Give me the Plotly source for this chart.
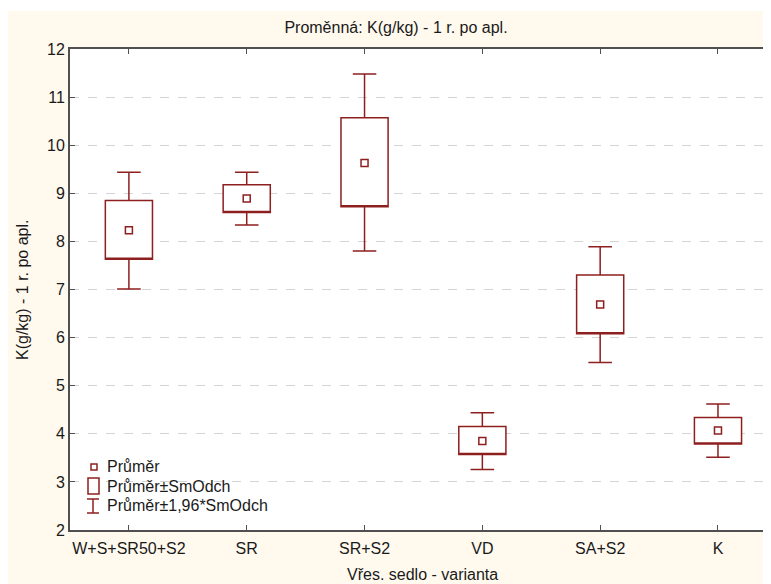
import plotly.graph_objects as go

# ---- data ----
categories = ["W+S+SR50+S2", "SR", "SR+S2", "VD", "SA+S2", "K"]
mean_vals = [8.23, 8.89, 9.63, 3.85, 6.69, 4.07]
sd_low = [7.63, 8.60, 8.72, 3.57, 6.08, 3.79]
sd_high = [8.85, 9.18, 10.57, 4.15, 7.30, 4.34]
ci_low = [7.01, 8.34, 7.80, 3.26, 5.48, 3.51]
ci_high = [9.44, 9.44, 11.48, 4.44, 7.89, 4.62]
y_ticks = list(range(2, 13))

title_text = "Proměnná: K(g/kg) - 1 r. po apl."
y_title = "K(g/kg) - 1 r. po apl."
x_title = "Vřes. sedlo - varianta"
legend_labels = ["Průměr", "Průměr±SmOdch", "Průměr±1,96*SmOdch"]

# ---- style ----
OX, OY = 8, 8            # page offset of the figure (body margin)
W, H = 763, 576          # figure size (fills the 771x584 window after offset)
ML, MR, MT, MB = 62, 0, 41, 54
PW, PH = W - ML - MR, H - MT - MB
RED = "#8E1F1F"
AX = "#505050"
TXT = "#1a1a1a"
FONT = "Liberation Sans, Arial, sans-serif"
CREAM = "#FFF9EE"


def px(xp):
    """page x pixel -> paper x"""
    return (xp - OX - ML) / PW


def py(yp):
    """page y pixel -> paper y"""
    return (OY + H - MB - yp) / PH


fig = go.Figure()

fig.add_trace(go.Box(
    x=categories,
    q1=sd_low, q3=sd_high, median=sd_low,
    lowerfence=ci_low, upperfence=ci_high,
    width=0.4, whiskerwidth=0.5,
    fillcolor="white",
    line=dict(color=RED, width=1.5),
    boxpoints=False,
    showlegend=False,
    hoverinfo="skip",
))

fig.add_trace(go.Scatter(
    x=categories, y=mean_vals, mode="markers",
    marker=dict(symbol="square", size=7, color="white",
                line=dict(color=RED, width=1.5)),
    showlegend=False,
))

shapes = [
    # thin white strip at the top of the page (reference border)
    dict(type="rect", xref="paper", yref="paper", x0=px(0), x1=px(780),
         y0=py(11), y1=py(0), fillcolor="white", line=dict(width=0), layer="above"),
    # legend glyphs
    dict(type="rect", xref="paper", yref="paper", x0=px(91), x1=px(97),
         y0=py(470), y1=py(464), fillcolor="white", line=dict(color=RED, width=1.5)),
    dict(type="rect", xref="paper", yref="paper", x0=px(88), x1=px(99),
         y0=py(494), y1=py(478), fillcolor="white", line=dict(color=RED, width=1.5)),
    dict(type="line", xref="paper", yref="paper", x0=px(93), x1=px(93),
         y0=py(513), y1=py(499), line=dict(color=RED, width=1.5)),
    dict(type="line", xref="paper", yref="paper", x0=px(87), x1=px(99),
         y0=py(499), y1=py(499), line=dict(color=RED, width=1.5)),
    dict(type="line", xref="paper", yref="paper", x0=px(87), x1=px(99),
         y0=py(513), y1=py(513), line=dict(color=RED, width=1.5)),
]

annotations = [
    dict(text=y_title, xref="paper", yref="paper", x=px(22), y=py(290),
         textangle=-90, showarrow=False, font=dict(size=16, color=TXT, family=FONT),
         xanchor="center", yanchor="middle"),
    dict(text=x_title, xref="paper", yref="paper", x=px(422), y=py(574),
         showarrow=False, font=dict(size=16, color=TXT, family=FONT),
         xanchor="center", yanchor="middle"),
]
for lbl, yp in zip(legend_labels, [466, 486, 505]):
    annotations.append(dict(text=lbl, xref="paper", yref="paper", x=px(105), y=py(yp),
                            showarrow=False, xanchor="left", yanchor="middle",
                            font=dict(size=16, color=TXT, family=FONT)))

fig.update_layout(
    width=W, height=H,
    margin=dict(l=ML, r=MR, t=MT, b=MB),
    paper_bgcolor=CREAM, plot_bgcolor="white",
    font=dict(family=FONT, size=16, color=TXT),
    title=dict(text=title_text, x=(396 - OX) / W, xanchor="center",
               y=1 - (27 - OY) / H, yanchor="middle",
               font=dict(size=16, color=TXT, family=FONT)),
    shapes=shapes,
    annotations=annotations,
    showlegend=False,
)

fig.update_xaxes(
    type="category", range=[-0.5, 5.45],
    showline=True, linecolor=AX, linewidth=1.5, mirror="ticks",
    ticks="inside", ticklen=5, tickcolor=AX, tickwidth=1.2,
    ticklabelstandoff=3,
    showgrid=False, zeroline=False,
    tickfont=dict(size=16, color=TXT, family=FONT),
)
fig.update_yaxes(
    range=[2, 12], tickvals=y_ticks,
    showline=True, linecolor=AX, linewidth=2,
    ticks="inside", ticklen=5, tickcolor=AX, tickwidth=1.2,
    showgrid=True, gridcolor="#d4d4d4", griddash="dash", gridwidth=1,
    zeroline=False,
    tickfont=dict(size=16, color=TXT, family=FONT),
)

fig.write_html("out.html")
